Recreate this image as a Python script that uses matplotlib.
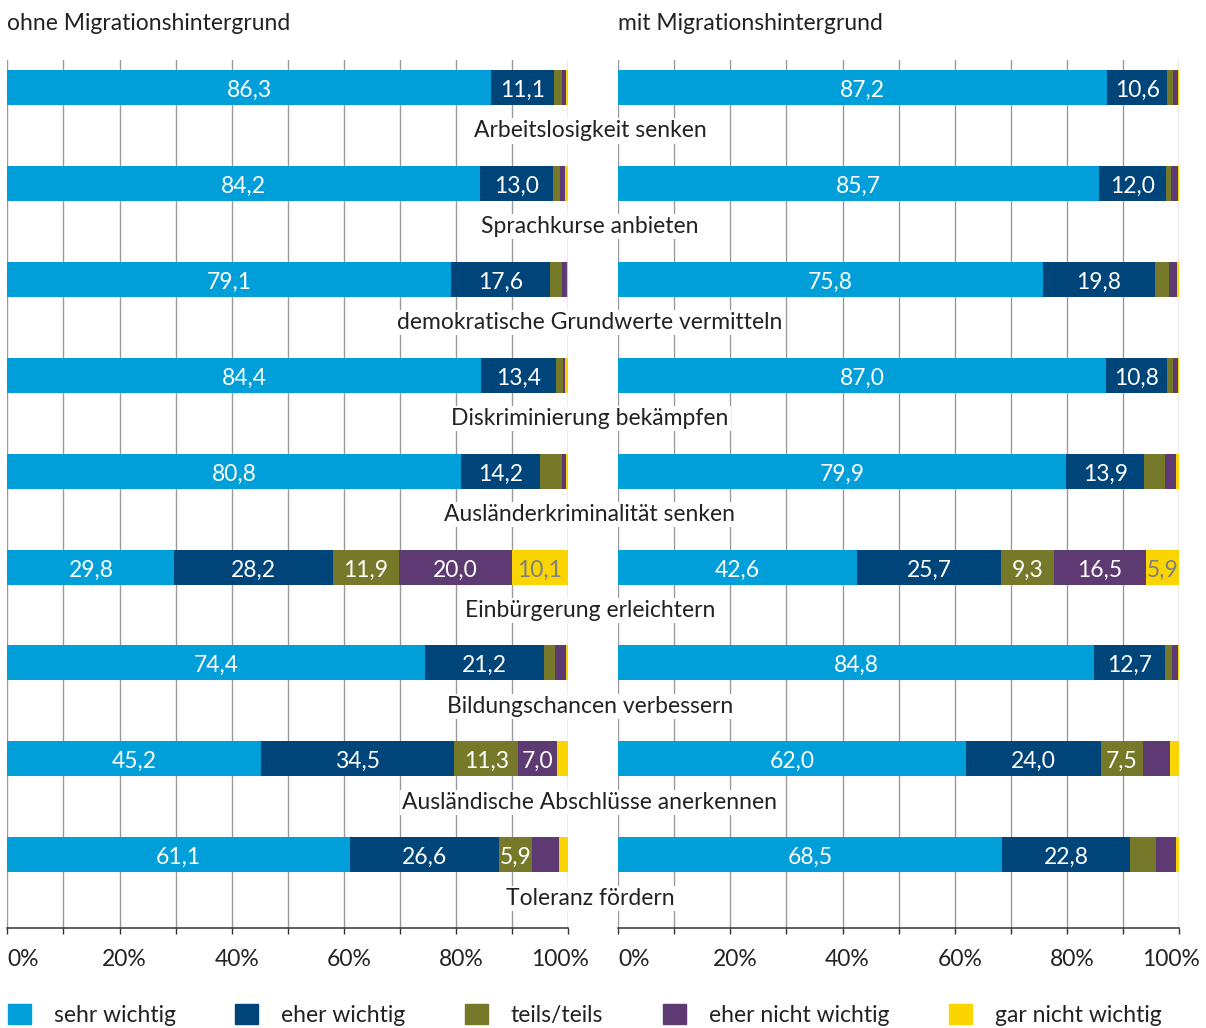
import matplotlib
matplotlib.use("Agg")
import matplotlib.pyplot as plt
import matplotlib.patches as mpatches
from matplotlib.transforms import blended_transform_factory
import numpy as np

plt.rcParams["font.family"] = ["Lato", "DejaVu Sans"]

# ── Data ──────────────────────────────────────────────────────────────────────
categories = [
    "Arbeitslosigkeit senken",
    "Sprachkurse anbieten",
    "demokratische Grundwerte vermitteln",
    "Diskriminierung bekämpfen",
    "Ausländerkriminalität senken",
    "Einbürgerung erleichtern",
    "Bildungschancen verbessern",
    "Ausländische Abschlüsse anerkennen",
    "Toleranz fördern",
]
series_names = ["sehr wichtig", "eher wichtig", "teils/teils",
                "eher nicht wichtig", "gar nicht wichtig"]

ohne_sehr = [86.3, 84.2, 79.1, 84.4, 80.8, 29.8, 74.4, 45.2, 61.1]
ohne_eher = [11.1, 13.0, 17.6, 13.4, 14.2, 28.2, 21.2, 34.5, 26.6]
ohne_teils = [1.4, 1.3, 2.1, 1.2, 3.9, 11.9, 2.1, 11.3, 5.9]
ohne_eher_nicht = [0.8, 1.0, 1.0, 0.5, 0.7, 20.0, 1.9, 7.0, 4.7]
ohne_gar_nicht = [0.4, 0.4, 0.2, 0.5, 0.4, 10.1, 0.4, 2.0, 1.6]

mit_sehr = [87.2, 85.7, 75.8, 87.0, 79.9, 42.6, 84.8, 62.0, 68.5]
mit_eher = [10.6, 12.0, 19.8, 10.8, 13.9, 25.7, 12.7, 24.0, 22.8]
mit_teils = [1.0, 0.9, 2.6, 1.0, 3.7, 9.3, 1.2, 7.5, 4.5]
mit_eher_nicht = [0.9, 1.2, 1.4, 0.9, 1.9, 16.5, 1.0, 4.9, 3.6]
mit_gar_nicht = [0.3, 0.2, 0.4, 0.3, 0.6, 5.9, 0.3, 1.5, 0.5]

panel_titles = ["ohne Migrationshintergrund", "mit Migrationshintergrund"]
tick_values = [0, 20, 40, 60, 80, 100]
tick_labels = ["0%", "20%", "40%", "60%", "80%", "100%"]

colors = ["#009FD9", "#00457A", "#76782A", "#5E3A72", "#FAD500"]
label_colors = ["white", "white", "white", "white", "#808080"]
FS = 16.5
W, H = 1206, 1028

fig = plt.figure(figsize=(W / 100, H / 100), dpi=100)

y_top_px, y_bot_px = 60, 928
first_c, step = 87.5, 95.9
ylim_top = -(first_c - y_top_px) / step
ylim_bot = (y_bot_px - first_c) / step
bar_h = 35 / step


def make_panel(x0_px, x1_px, parts, title):
    ax = fig.add_axes([x0_px / W, 1 - y_bot_px / H,
                       (x1_px - x0_px) / W, (y_bot_px - y_top_px) / H])
    ax.set_facecolor("none")
    ypos = np.arange(len(categories))
    left = np.zeros(len(categories))
    for vals, col, lcol in zip(parts, colors, label_colors):
        vals = np.array(vals)
        ax.barh(ypos, vals, left=left, height=bar_h, color=col, zorder=2)
        for y, l, v in zip(ypos, left, vals):
            if v >= 5.5:
                ax.text(l + v / 2, y + 0.03, f"{v:.1f}".replace(".", ","),
                        ha="center", va="center", color=lcol, fontsize=FS,
                        zorder=3)
        left += vals
    ax.set_xlim(0, 100)
    ax.set_ylim(ylim_bot, ylim_top)
    ax.set_xticks(np.arange(0, 101, 10))
    ax.set_yticks([])
    ax.tick_params(axis="x", direction="out", length=4, width=1.0,
                   color="#333333", labelbottom=False)
    ax.grid(axis="x", color="#9a9a9a", linewidth=1.0, zorder=0)
    ax.set_axisbelow(True)
    for s in ("top", "left", "right"):
        ax.spines[s].set_visible(False)
    ax.spines["bottom"].set_color("#333333")
    ax.spines["bottom"].set_linewidth(1.1)
    tr = blended_transform_factory(ax.transData, fig.transFigure)
    for tv, tl in zip(tick_values, tick_labels):
        if tv == 0:
            ax.text(tv, 1 - 960 / H, tl, ha="left", va="center",
                    fontsize=FS, color="#222222", transform=tr)
        elif tv == 100:
            ax.text(98.5, 1 - 960 / H, tl, ha="center", va="center",
                    fontsize=FS, color="#222222", transform=tr)
        else:
            ax.text(tv + 0.9, 1 - 960 / H, tl, ha="center", va="center",
                    fontsize=FS, color="#222222", transform=tr)
    fig.text(x0_px / W, 1 - 23.5 / H, title, ha="left", va="center",
             fontsize=FS, color="#222222")
    return ax


axl = make_panel(7.3, 568.3, [ohne_sehr, ohne_eher, ohne_teils,
                              ohne_eher_nicht, ohne_gar_nicht], panel_titles[0])
axr = make_panel(618, 1179.3, [mit_sehr, mit_eher, mit_teils,
                               mit_eher_nicht, mit_gar_nicht], panel_titles[1])

# category labels between the panels, on top of both grids
ctr = blended_transform_factory(fig.transFigure, axl.transData)
for i, cat in enumerate(categories):
    fig.text(590 / W, i + 43.5 / step, cat, transform=ctr, ha="center",
             va="center", fontsize=FS, color="#222222", zorder=5,
             bbox=dict(facecolor="white", edgecolor="none", pad=1.5))

handles = [mpatches.Patch(color=c, label=n) for c, n in zip(colors, series_names)]
fig.legend(handles=handles, loc="center left", ncol=5,
           bbox_to_anchor=(8 / W, 1 - 1015 / H), frameon=False,
           fontsize=FS, handlelength=1.0, handleheight=1.0,
           handletextpad=1.0, columnspacing=2.6, borderpad=0,
           borderaxespad=0, labelcolor="#222222")

fig.savefig("out.png", dpi=100)
